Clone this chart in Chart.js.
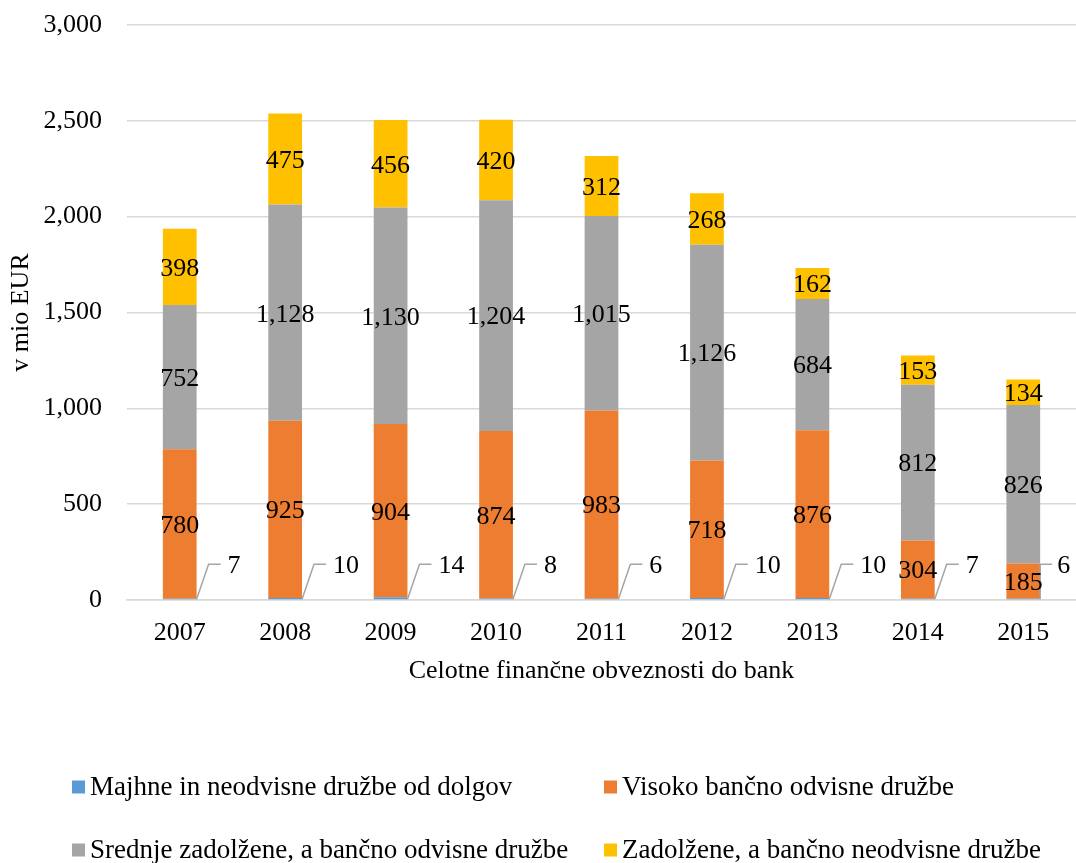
<!DOCTYPE html>
<html>
<head>
<meta charset="utf-8">
<script src="https://cdn.jsdelivr.net/npm/chart.js@4/dist/chart.umd.min.js"></script>
<style>
  html, body { margin: 0; padding: 0; background: #fff; }
  #wrap { width: 1076px; height: 863px; }
</style>
</head>
<body>
<div id="wrap"><canvas id="myChart"></canvas></div>
<script>
// podatki
const years = ['2007', '2008', '2009', '2010', '2011', '2012', '2013', '2014', '2015'];
const majhne = [7, 10, 14, 8, 6, 10, 10, 7, 6];
const visoko = [780, 925, 904, 874, 983, 718, 876, 304, 185];
const srednje = [752, 1128, 1130, 1204, 1015, 1126, 684, 812, 826];
const zadolzene = [398, 475, 456, 420, 312, 268, 162, 153, 134];
const seriesNames = [
    'Majhne in neodvisne družbe od dolgov',
    'Visoko bančno odvisne družbe',
    'Srednje zadolžene, a bančno odvisne družbe',
    'Zadolžene, a bančno neodvisne družbe'
];
const yTicks = [0, 500, 1000, 1500, 2000, 2500, 3000];

const FONT = "'Liberation Serif', 'Times New Roman', serif";
const fmt = new Intl.NumberFormat('en-US');

// oznake vrednosti na stolpcih
const valueLabels = {
    id: 'valueLabels',
    afterDatasetsDraw(chart) {
        const ctx = chart.ctx;
        ctx.save();
        ctx.font = '26px ' + FONT;
        ctx.fillStyle = '#000';
        chart.data.datasets.forEach((ds, i) => {
            const meta = chart.getDatasetMeta(i);
            meta.data.forEach((bar, j) => {
                const txt = fmt.format(ds.data[j]);
                if (i === 0) {
                    // vodilna črta do oznake
                    const x0 = bar.x + bar.width / 2;
                    const y0 = bar.base;
                    const y1 = y0 - 35;
                    const w = ctx.measureText(txt).width;
                    const tight = x0 + 31 + w > chart.width;
                    ctx.strokeStyle = '#A5A5A5';
                    ctx.lineWidth = 1.5;
                    ctx.beginPath();
                    ctx.moveTo(x0, y0);
                    if (tight) {
                        ctx.lineTo(x0, y1);
                        ctx.lineTo(x0 + 12, y1);
                    } else {
                        ctx.lineTo(x0 + 12, y1);
                        ctx.lineTo(x0 + 24, y1);
                    }
                    ctx.stroke();
                    ctx.textAlign = 'left';
                    ctx.textBaseline = 'middle';
                    ctx.fillText(txt, tight ? x0 + 17 : x0 + 31, y1 + 2);
                } else {
                    ctx.textAlign = 'center';
                    ctx.textBaseline = 'middle';
                    ctx.fillText(txt, bar.x, (bar.y + bar.base) / 2 + 2);
                }
            });
        });
        ctx.restore();
    }
};

// legenda v dveh stolpcih
const gridLegend = {
    id: 'gridLegend',
    afterDraw(chart) {
        const ctx = chart.ctx;
        const cols = [72, 604];
        const rows = [787, 850];
        ctx.save();
        ctx.font = '27px ' + FONT;
        ctx.textAlign = 'left';
        ctx.textBaseline = 'middle';
        chart.data.datasets.forEach((ds, i) => {
            const x = cols[i % 2];
            const y = rows[Math.floor(i / 2)];
            ctx.fillStyle = ds.backgroundColor;
            ctx.fillRect(x, y - 6.5, 13, 13);
            ctx.fillStyle = '#000';
            ctx.fillText(ds.label, x + 18, y + 1);
        });
        ctx.restore();
    }
};

const colors = ['#5B9BD5', '#ED7D31', '#A5A5A5', '#FFC000'];
const values = [majhne, visoko, srednje, zadolzene];

new Chart(document.getElementById('myChart'), {
    type: 'bar',
    data: {
        labels: years,
        datasets: values.map((arr, i) => ({
            label: seriesNames[i],
            data: arr,
            backgroundColor: colors[i],
            borderWidth: 0,
            barPercentage: 0.32,
            categoryPercentage: 1
        }))
    },
    options: {
        responsive: true,
        maintainAspectRatio: false,
        animation: false,
        layout: { padding: { top: 25, right: 0, bottom: 173, left: 0 } },
        plugins: {
            legend: { display: false },
            tooltip: { enabled: false }
        },
        scales: {
            x: {
                stacked: true,
                afterFit: (s) => { s.height = 90; s.paddingLeft = 0; s.paddingRight = 0; },
                grid: { display: false, drawTicks: false },
                border: { display: true, color: '#D9D9D9', width: 1.5 },
                ticks: { color: '#000', font: { family: FONT, size: 26 }, padding: 18, maxRotation: 0 },
                title: {
                    display: true,
                    text: 'Celotne finančne obveznosti do bank',
                    color: '#000',
                    font: { family: FONT, size: 26 },
                    padding: { top: 0, bottom: 3 }
                }
            },
            y: {
                stacked: true,
                min: 0,
                max: 3000,
                afterFit: (s) => { s.width = 127; s.paddingTop = 0; s.paddingBottom = 0; },
                afterBuildTicks: (s) => { s.ticks = yTicks.map(v => ({ value: v })); },
                grid: { color: '#D9D9D9', lineWidth: 1.5, drawTicks: false },
                border: { display: false },
                ticks: {
                    color: '#000',
                    font: { family: FONT, size: 26 },
                    padding: 25,
                    callback: (v) => fmt.format(v)
                },
                title: {
                    display: true,
                    text: 'v mio EUR',
                    color: '#000',
                    font: { family: FONT, size: 26 },
                    padding: { top: 6, bottom: 0 }
                }
            }
        }
    },
    plugins: [valueLabels, gridLegend]
});
</script>
</body>
</html>
